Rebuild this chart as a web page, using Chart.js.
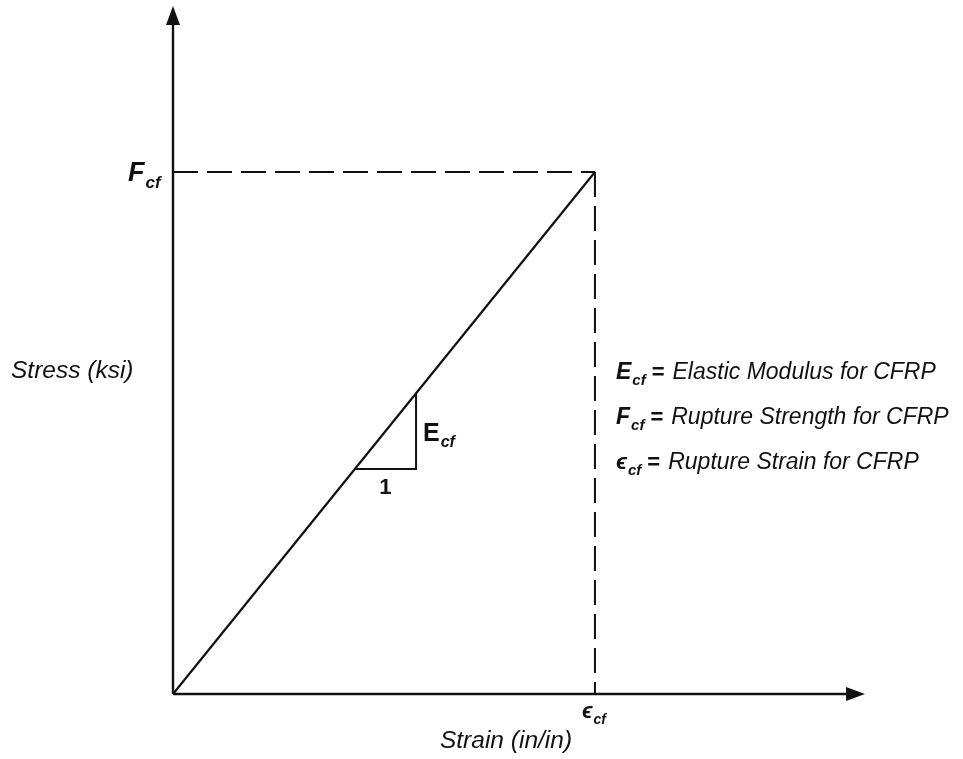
<!DOCTYPE html>
<html>
<head>
<meta charset="utf-8">
<script src="https://cdn.jsdelivr.net/npm/chart.js@4"></script>
<style>
  html, body { margin: 0; padding: 0; background: #fff; }
  #wrap { width: 963px; height: 759px; }
</style>
</head>
<body>
<div id="wrap"><canvas id="cfrpChart" width="963" height="759"></canvas></div>
<script>
// values normalised to rupture point (strain = eps_cf, stress = F_cf)
const strain = [0, 1];
const stress = [0, 1];
const ruptureStrain = 1;
const ruptureStress = 1;
const axisMaxX = 1.64;
const axisMaxY = 1.318;
const slopeX = [0.431, 0.576, 0.576];
const slopeY = [0.431, 0.431, 0.576];
const tickLabelY = { main: 'F', sub: 'cf' };
const tickLabelX = { main: '\u03F5', sub: 'cf' };
const slopeLabels = { rise: { main: 'E', sub: 'cf' }, run: '1' };
const axisTitles = { x: 'Strain (in/in)', y: 'Stress (ksi)' };
const notes = [
    { main: 'E', sub: 'cf', text: 'Elastic Modulus for CFRP' },
    { main: 'F', sub: 'cf', text: 'Rupture Strength for CFRP' },
    { main: '\u03F5', sub: 'cf', text: 'Rupture Strain for CFRP' }
];

const FONT = '"Liberation Sans", Arial, sans-serif';

function subText(ctx, x, y, lbl, size, italicMain) {
    ctx.textBaseline = 'alphabetic';
    ctx.textAlign = 'left';
    ctx.font = (italicMain ? 'italic ' : '') + 'bold ' + size + 'px ' + FONT;
    ctx.fillText(lbl.main, x, y);
    const w = ctx.measureText(lbl.main).width;
    ctx.font = 'italic bold ' + Math.round(size * 0.64) + 'px ' + FONT;
    ctx.fillText(lbl.sub, x + w + 1, y + size * 0.25);
    return x + w + 1 + ctx.measureText(lbl.sub).width;
}

const decor = {
    id: 'decor',
    afterDatasetsDraw(chart) {
        const ctx = chart.ctx;
        const xs = chart.scales.x, ys = chart.scales.y;
        const x0 = xs.getPixelForValue(0), y0 = ys.getPixelForValue(0);
        const xEnd = xs.getPixelForValue(axisMaxX), yEnd = ys.getPixelForValue(axisMaxY);
        ctx.save();
        ctx.fillStyle = '#111';
        // arrow heads
        ctx.beginPath();
        ctx.moveTo(x0, yEnd);
        ctx.lineTo(x0 - 7, yEnd + 19);
        ctx.lineTo(x0 + 7, yEnd + 19);
        ctx.closePath();
        ctx.fill();
        ctx.beginPath();
        ctx.moveTo(xEnd, y0);
        ctx.lineTo(xEnd - 19, y0 - 7);
        ctx.lineTo(xEnd - 19, y0 + 7);
        ctx.closePath();
        ctx.fill();

        // tick labels
        const fy = ys.getPixelForValue(ruptureStress);
        subText(ctx, x0 - 45, fy + 9, tickLabelY, 27, true);
        const ex = xs.getPixelForValue(ruptureStrain);
        subText(ctx, ex - 13, y0 + 24, tickLabelX, 22, true);

        // slope triangle labels
        const rx = xs.getPixelForValue(slopeX[1]);
        const ry = (ys.getPixelForValue(slopeY[1]) + ys.getPixelForValue(slopeY[2])) / 2;
        subText(ctx, rx + 7, ry + 10, slopeLabels.rise, 25, false);
        ctx.font = 'bold 22px ' + FONT;
        ctx.textAlign = 'center';
        ctx.fillText(slopeLabels.run, (xs.getPixelForValue(slopeX[0]) + rx) / 2, ys.getPixelForValue(slopeY[0]) + 25);

        // notes
        notes.forEach((n, i) => {
            const ny = 379 + i * 45;
            let nx = subText(ctx, 616, ny, n, 23, true);
            ctx.font = 'bold 22px ' + FONT;
            ctx.textAlign = 'left';
            ctx.fillText('=', nx + 6, ny);
            nx += 6 + ctx.measureText('=').width + 8;
            ctx.font = 'italic 23px ' + FONT;
            ctx.fillText(n.text, nx, ny);
        });

        // axis titles
        ctx.font = 'italic 24.5px ' + FONT;
        ctx.textAlign = 'left';
        ctx.fillText(axisTitles.y, 11, 378);
        ctx.textAlign = 'center';
        ctx.fillText(axisTitles.x, 506, 748);
        ctx.restore();
    }
};

const toPts = (xa, ya) => xa.map((v, i) => ({ x: v, y: ya[i] }));
const lineStyle = { showLine: true, pointRadius: 0, borderColor: '#111', fill: false, tension: 0, clip: false };

new Chart(document.getElementById('cfrpChart'), {
    type: 'scatter',
    data: {
        datasets: [
            { ...lineStyle, data: [{ x: 0, y: 0 }, { x: axisMaxX - 0.02, y: 0 }], borderWidth: 2.4 },
            { ...lineStyle, data: [{ x: 0, y: 0 }, { x: 0, y: axisMaxY - 0.02 }], borderWidth: 2.4 },
            { ...lineStyle, data: toPts(strain, stress), borderWidth: 2.2 },
            { ...lineStyle, data: [{ x: 0, y: ruptureStress }, { x: ruptureStrain, y: ruptureStress }], borderWidth: 2, borderDash: [25, 9] },
            { ...lineStyle, data: [{ x: ruptureStrain, y: ruptureStress }, { x: ruptureStrain, y: 0 }], borderWidth: 2, borderDash: [25, 9] },
            { ...lineStyle, data: toPts(slopeX, slopeY), borderWidth: 2 }
        ]
    },
    options: {
        responsive: false,
        animation: false,
        layout: { padding: { left: 173, top: 6, right: 98, bottom: 65 } },
        plugins: { legend: { display: false }, tooltip: { enabled: false } },
        scales: {
            x: { type: 'linear', display: false, min: 0, max: axisMaxX },
            y: { type: 'linear', display: false, min: 0, max: axisMaxY }
        }
    },
    plugins: [decor]
});
</script>
</body>
</html>
